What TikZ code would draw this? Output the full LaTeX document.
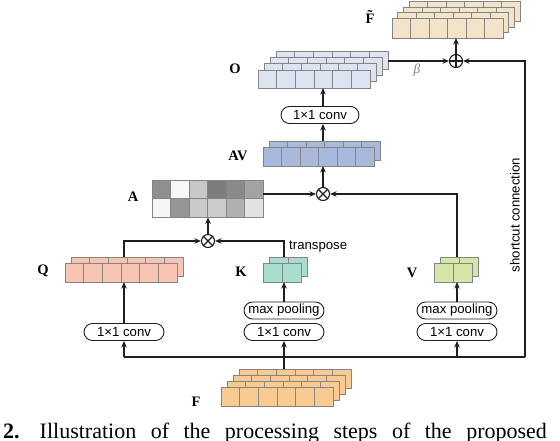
\documentclass[tikz,border=0pt]{standalone}
\usepackage{fontspec}
\setmainfont{Liberation Serif}
\setsansfont{Liberation Sans}
\usetikzlibrary{arrows.meta}
\definecolor{lnc}{HTML}{1F1F1F}
\definecolor{cellbd}{HTML}{858585}
\definecolor{cFt}{HTML}{F3E3C9}
\definecolor{cO}{HTML}{DDE4F1}
\definecolor{cAV}{HTML}{A8B9DC}
\definecolor{cQ}{HTML}{F8C5B3}
\definecolor{cK}{HTML}{A9DDD0}
\definecolor{cV}{HTML}{D5E6A8}
\definecolor{cF}{HTML}{F9CA92}
\tikzset{
  cellb/.style={draw=cellbd, line width=0.7pt},
  wire/.style={draw=lnc, line width=1.1pt},
  arr/.style={wire, -{Stealth[length=6.5pt,width=5.5pt]}},
  opbox/.style={draw=lnc, line width=0.9pt, fill=white, rounded corners=8.5pt,
    minimum width=80pt, minimum height=17pt, inner sep=0pt,
    font=\sffamily\fontsize{13.2}{15}\selectfont},
  opcirc/.style={circle, draw=lnc, line width=1.1pt, minimum size=13pt, inner sep=0pt},
  lab/.style={font=\bfseries\fontsize{14.5}{16}\selectfont, inner sep=0pt, anchor=base},
  sftxt/.style={font=\sffamily\fontsize{13.2}{15}\selectfont, inner sep=0pt},
}
\def\sdx{6}\def\sdy{6}
\newcommand\cellstack[8]{%
  \foreach \l in {#7,...,0}{%
    \foreach \c in {1,...,#4}{%
      \filldraw[cellb, fill=#8] ({#2+\sdx*\l+(\c-1)*#5}, {#3-\sdy*\l}) rectangle ++(#5,#6);
    }%
  }%
  \node[anchor=north west, minimum width={#4*#5}, minimum height=#6, inner sep=0pt, outer sep=0pt] (#1) at (#2,#3) {};
  \node[anchor=north west, minimum width={#4*#5}, minimum height=#6, inner sep=0pt, outer sep=0pt] (#1t) at ({#2+\sdx*#7},{#3-\sdy*#7}) {};
}
\begin{document}
\begin{tikzpicture}[x=1pt,y=-1pt]
\useasboundingbox (0,0) rectangle (560,440);
% stacks
\def\sdx{5.7}\def\sdy{5.4}
\cellstack{Fo}{392}{18}{6}{18.5}{20}{3}{cFt}
\def\sdx{6}\def\sdy{6.3}
\cellstack{O}{258}{70}{6}{18.7}{18}{3}{cO}
\def\sdx{6}\def\sdy{6}
\cellstack{AV}{263}{147}{6}{18.5}{19}{1}{cAV}
\cellstack{Q}{65}{263}{6}{18.7}{19}{1}{cQ}
\cellstack{K}{263}{263}{2}{19}{19}{1}{cK}
\cellstack{V}{434}{263}{2}{19}{19}{1}{cV}
\cellstack{F}{221}{387}{6}{18.67}{19}{3}{cF}
% attention matrix A
\foreach \col [count=\c] in {8F8F8F,F7F8F7,C8C8C8,7D7D7D,8A8A8A,A3A3A3}{%
  \definecolor{tmpc}{HTML}{\col}
  \filldraw[cellb, fill=tmpc] ({152+(\c-1)*18.5},180) rectangle ++(18.5,18.5);
}
\foreach \col [count=\c] in {F5F7F5,959595,C9C9C9,CBCBCB,AFAFAF,E2E2E2}{%
  \definecolor{tmpc}{HTML}{\col}
  \filldraw[cellb, fill=tmpc] ({152+(\c-1)*18.5},198.5) rectangle ++(18.5,18.5);
}
\node[anchor=north west, minimum width=111pt, minimum height=37pt, inner sep=0pt] (A) at (152,180) {};
% operation boxes
\node[opbox, minimum width=78pt] (Oc) at (320,115) {1×1 conv};
\node[opbox] (Qc) at (124,332) {1×1 conv};
\node[opbox] (Kc) at (284,332) {1×1 conv};
\node[opbox] (Kp) at (284,310.5) {max pooling};
\node[opbox] (Vc) at (457,332) {1×1 conv};
\node[opbox] (Vp) at (457,310.5) {max pooling};
% operators
\node[opcirc] (plus) at (456,61) {};
\draw[wire] (plus.north) -- (plus.south) (plus.west) -- (plus.east);
\node[opcirc] (mm) at (323,194) {};
\draw[wire] (mm.north east) -- (mm.south west) (mm.north west) -- (mm.south east);
\node[opcirc] (ml) at (208,241) {};
\draw[wire] (ml.north east) -- (ml.south west) (ml.north west) -- (ml.south east);
% labels
\node[lab] (lFo) at (370,23) {\~{F}};
\node[lab] (lO) at (235,73) {O};
\node[lab] (lAV) at (238,160) {AV};
\node[lab] (lA) at (133,201) {A};
\node[lab] (lQ) at (43,274) {Q};
\node[lab] (lK) at (241,276) {K};
\node[lab] (lV) at (412,277) {V};
\node[lab] (lF) at (196,406) {F};
\node[font=\itshape\fontsize{13.5}{15}\selectfont, text=gray, inner sep=0pt] (beta) at (417,70) {β};
\node[sftxt, anchor=west] (tr) at (289,247) {transpose};
\node[sftxt, rotate=90] (sct) at (515,215) {shortcut connection};
% connectors
\coordinate (bus) at (0,357);
\coordinate (sc) at (525,0);
\draw[wire] (Qc.south |- bus) -- (sc |- bus);
\draw[arr] (Qc.south |- bus) -- (Qc.south);
\draw[arr] (Vc.south |- bus) -- (Vc.south);
\draw[arr] (sc |- bus) -- (sc |- plus) -- (plus.east);
\draw[arr] (Kc.south |- Ft.north) -- (Kc.south);
\draw[arr] (Qc.north) -- (Qc.north |- Q.south);
\draw[arr] (Kp.north) -- (Kp.north |- K.south);
\draw[arr] (Vp.north) -- (Vp.north |- V.south);
\draw[arr] (Qc.north |- Qt.north) |- (ml.west);
\draw[arr] (Kp.north |- Kt.north) |- (ml.east);
\draw[arr] (ml.north) -- (ml.north |- A.south);
\draw[arr] (A.east |- mm) -- (mm.west);
\draw[arr] (Vp.north |- Vt.north) |- (mm.east);
\draw[arr] (mm.north) -- (mm.north |- AV.south);
\draw[arr] (mm |- AVt.north) -- (mm |- Oc.south);
\draw[arr] (mm |- Oc.north) -- (mm |- O.south);
\draw[arr] (Ot.east |- plus) -- (plus.west);
\draw[arr] (plus.north) -- (plus.north |- Fo.south);
% caption (cut off at the bottom and right, as in the reference)
\node[anchor=base west, inner sep=0pt, font=\fontsize{22}{24}\selectfont] (cap) at (3,438) {\spaceskip=14.5pt\relax\textbf{2.}\hspace{20pt}Illustration of the processing steps of the proposed};
\end{tikzpicture}
\end{document}
